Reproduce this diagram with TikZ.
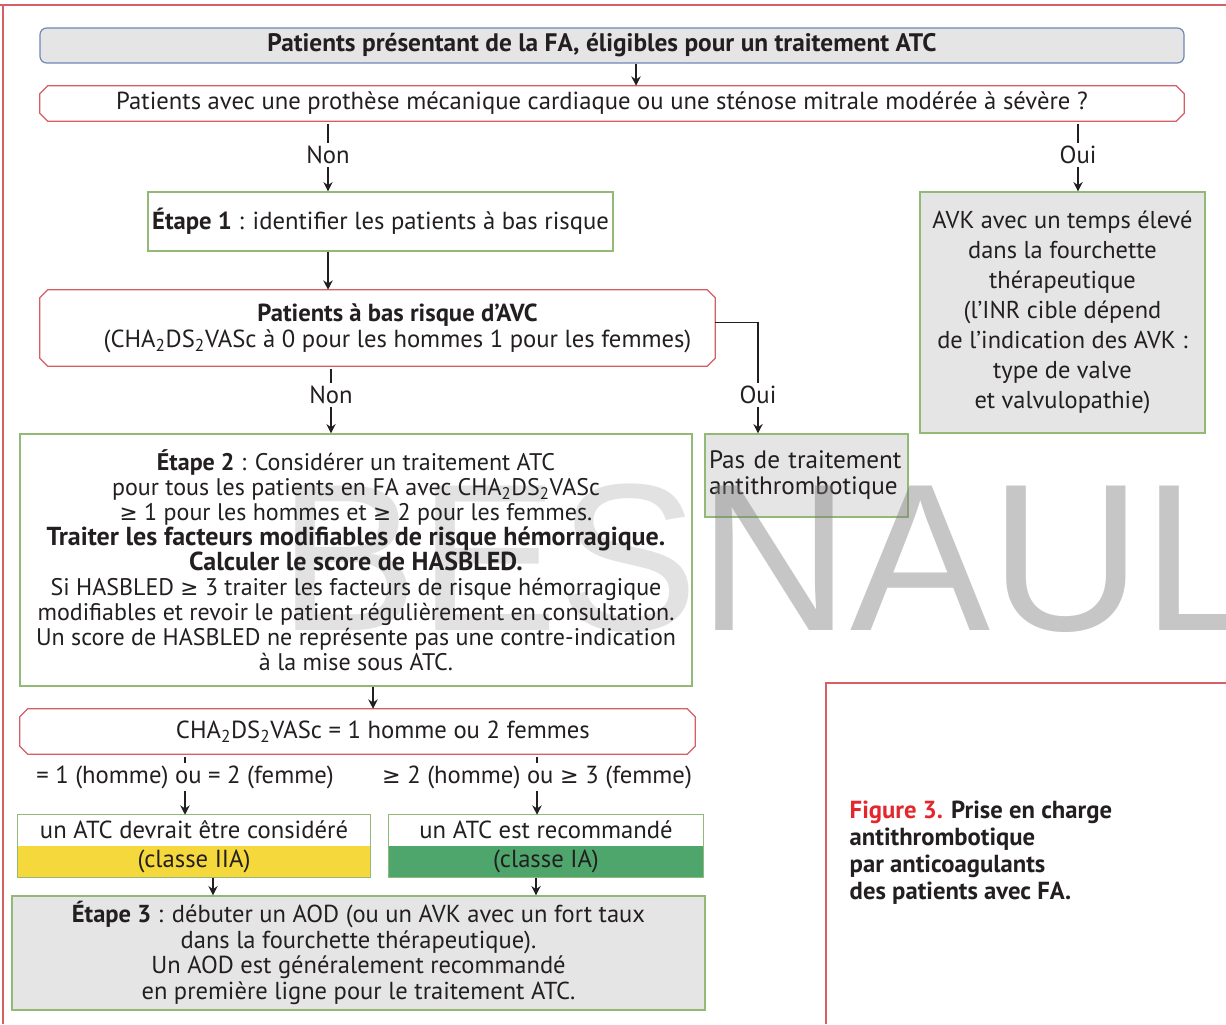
\documentclass[tikz,border=0pt]{standalone}
\usepackage{fontspec}
\setmainfont{PT Sans}
\newfontfamily\markfont{Liberation Sans}
\newfontfamily\symfont[Scale=0.9]{DejaVu Sans}
\usepackage{tikz}
\usetikzlibrary{arrows.meta}
\usetikzlibrary{calc}
\usetikzlibrary{positioning}

\definecolor{ink}{RGB}{35,31,32}
\definecolor{redline}{RGB}{212,96,100}
\definecolor{greenline}{RGB}{146,186,118}
\definecolor{blueline}{RGB}{112,134,180}
\definecolor{boxgray}{RGB}{229,229,229}
\definecolor{classyellow}{RGB}{245,216,60}
\definecolor{classgreen}{RGB}{78,166,108}
\definecolor{figred}{RGB}{228,38,45}
\definecolor{markgray}{RGB}{120,120,120}

\newcommand{\chads}{CHA\textsubscript{2}DS\textsubscript{2}VASc}
\newcommand{\gesign}{{\symfont ≥}}
% red outline with cut corners round a node
\newcommand{\chamferbox}[1]{%
  \draw[redline,line width=0.9pt] ($(#1.north west)!6pt!(#1.north east)$) -- ($(#1.north east)!6pt!(#1.north west)$)
    -- ($(#1.north east)!6pt!(#1.south east)$) -- ($(#1.south east)!6pt!(#1.north east)$)
    -- ($(#1.south east)!6pt!(#1.south west)$) -- ($(#1.south west)!6pt!(#1.south east)$)
    -- ($(#1.south west)!6pt!(#1.north west)$) -- ($(#1.north west)!6pt!(#1.south west)$) -- cycle;}

\begin{document}
\begin{tikzpicture}[x=0.75pt,y=0.75pt,yscale=-1,xscale=1,
  txt/.style={text=ink,font=\fontsize{18.5}{19.5}\selectfont},
  redbox/.style={txt,rectangle,fill=white,inner sep=0pt},
  greenbox/.style={txt,rectangle,draw=greenline,line width=0.9pt,fill=white,inner sep=0pt},
  graybox/.style={greenbox,fill=boxgray},
  lab/.style={txt,inner xsep=2pt,inner ysep=2pt},
  arr/.style={draw=ink,line width=1.1pt,-{Stealth[length=7pt,width=7pt]}},
  stub/.style={draw=ink,line width=1.1pt,shorten <=2pt},
  ]
\useasboundingbox (0,0) rectangle (1226,1024);
\fill[white] (0,0) rectangle (1226,1024);

%Straight Lines
\draw[redline,line width=1.2pt] (0,5) -- (1226,5) (3,5) -- (3,1024);
%Straight Lines
\draw[redline,line width=1.2pt] (826,1024) -- (826,683) -- (1226,683);

%Shape: Rectangle
\node[txt,draw=blueline,fill=boxgray,line width=0.9pt,rounded corners=5pt,minimum width=858pt,minimum height=26.25pt,font=\fontsize{19}{19.5}\selectfont\bfseries] (elig) at (612,45.5) {Patients présentant de la FA, éligibles pour un traitement ATC\hspace*{15pt}};
%Shape: Chamfered Rectangle
\node[redbox,minimum width=858pt,minimum height=26.25pt] (valve) at (612,103.5) {Patients avec une prothèse mécanique cardiaque ou une sténose mitrale modérée à sévère ?\hspace*{15pt}};
\chamferbox{valve}
% Text Node
\node[lab] (valveno) at (328,155) {Non};
% Text Node
\node[lab] (valveyes) at (1078,155) {Oui};
%Shape: Rectangle
\node[greenbox,minimum width=348.75pt,minimum height=44.25pt] (stepone) at (380.5,221.5) {\textbf{Étape 1} : identifier les patients à bas risque};
%Shape: Rectangle
\node[graybox,minimum width=213.75pt,minimum height=180.75pt,align=center,font=\fontsize{18.3}{22.5}\selectfont] (avk) at (1062.5,312.5) {AVK avec un temps élevé\\dans la fourchette\\thérapeutique\\(l’INR cible dépend\\de l’indication des AVK :\\type de valve\\et valvulopathie)};
%Shape: Chamfered Rectangle
\node[redbox,minimum width=506.25pt,minimum height=57pt,align=center] (lowrisk) at (377.5,328) {\hspace*{30pt}\textbf{Patients à bas risque d’AVC}\\\hspace*{30pt}(\chads{} à 0 pour les hommes 1 pour les femmes)};
\chamferbox{lowrisk}
% Text Node
\node[lab] (lowno) at (331,395) {Non};
% Text Node
\node[lab] (lowyes) at (758,395) {Oui};
%Shape: Rectangle
\node[graybox,text width=146.25pt,inner xsep=3pt,minimum height=62.25pt,align=left,font=\fontsize{18.9}{19.5}\selectfont] (notreat) at (806.5,475.5) {Pas de traitement\\antithrombotique};

% Text Node
\node[markgray,opacity=0.42,font=\markfont\fontsize{157.5}{157.5}\selectfont,anchor=base west] (mark) at (274,630) {BESNAULT};

%Shape: Rectangle
\node[greenbox,fill opacity=0.5,text opacity=1,minimum width=504pt,minimum height=189pt,align=center,font=\fontsize{18}{18.75}\selectfont] (steptwo) at (356,560) {\textbf{Étape 2} : Considérer un traitement ATC\\pour tous les patients en FA avec \chads\\\gesign{} 1 pour les hommes et \gesign{} 2 pour les femmes.\\{\fontsize{19.5}{18.75}\selectfont\bfseries Traiter les facteurs modifiables de risque hémorragique.}\\{\fontsize{19.5}{18.75}\selectfont\bfseries Calculer le score de HASBLED.}\\Si HASBLED \gesign{} 3 traiter les facteurs de risque hémorragique\\modifiables et revoir le patient régulièrement en consultation.\\Un score de HASBLED ne représente pas une contre-indication\\à la mise sous ATC.};
%Shape: Chamfered Rectangle
\node[redbox,minimum width=506.25pt,minimum height=33.75pt] (score) at (357.5,731.5) {\chads{} = 1 homme ou 2 femmes\hspace*{-38pt}};
\chamferbox{score}
% Text Node
\node[lab] (scorelow) at (185,777) {= 1 (homme) ou = 2 (femme)};
% Text Node
\node[lab] (scorehigh) at (537,777) {\gesign{} 2 (homme) ou \gesign{} 3 (femme)};

%Shape: Rectangle
\node[txt,fill=white,minimum width=264pt,minimum height=22.5pt] (considtop) at (194,830) {un ATC devrait être considéré};
\node[txt,fill=classyellow,minimum width=264pt,minimum height=22.5pt,below=0pt of considtop] (considbot) {(classe IIA)};
\draw[greenline,line width=0.9pt] (considtop.north west) rectangle (considbot.south east);
%Shape: Rectangle
\node[txt,fill=white,minimum width=235.5pt,minimum height=22.5pt] (recotop) at (546,830) {un ATC est recommandé};
\node[txt,fill=classgreen,minimum width=235.5pt,minimum height=22.5pt,below=0pt of recotop] (recobot) {(classe IA)};
\draw[greenline,line width=0.9pt] (recotop.north west) rectangle (recobot.south east);

%Shape: Rectangle
\node[graybox,minimum width=519.75pt,minimum height=85.5pt,align=center,font=\fontsize{18.4}{19.1}\selectfont] (stepthree) at (358.5,953) {\textbf{Étape 3} : débuter un AOD (ou un AVK avec un fort taux\\dans la fourchette thérapeutique).\\Un AOD est généralement recommandé\\en première ligne pour le traitement ATC.};

% Text Node
\node[anchor=north west,align=left,text=ink,font=\fontsize{18.5}{20.25}\selectfont\bfseries] (caption) at (845,796) {\textcolor{figred}{Figure 3.} Prise en charge\\antithrombotique\\par anticoagulants\\des patients avec FA.};

%Straight Lines
\draw[arr] ([xshift=18pt]elig.south) -- ([xshift=18pt]valve.north);
\draw[stub] (valve.south -| valveno) -- (valveno);
\draw[arr] (valveno) -- (stepone.north -| valveno);
\draw[stub] (valve.south -| valveyes) -- (valveyes);
\draw[arr] (valveyes) -- (avk.north -| valveyes);
\draw[arr] (stepone.south -| valveno) -- (lowrisk.north -| valveno);
\draw[stub] (lowrisk.south -| lowno) -- (lowno);
\draw[arr] (lowno) -- (steptwo.north -| lowno);
\draw[draw=ink,line width=1.1pt] ($(lowrisk.east)!0.15!(lowrisk.north east)$) -| (lowyes);
\draw[arr] (lowyes) -- (notreat.north -| lowyes);
\draw[arr] ([xshift=12.75pt]steptwo.south) -- ([xshift=12.75pt]steptwo.south |- score.north);
\draw[stub] (score.south -| scorelow) -- (scorelow);
\draw[arr] (scorelow) -- (considtop.north -| scorelow);
\draw[stub] (score.south -| scorehigh) -- (scorehigh);
\draw[arr] (scorehigh) -- (recotop.north -| scorehigh);
\draw[arr] ([xshift=14.25pt]considbot.south) -- ([xshift=14.25pt]considbot.south |- stepthree.north);
\draw[arr] ([xshift=-7.5pt]recobot.south) -- ([xshift=-7.5pt]recobot.south |- stepthree.north);

\end{tikzpicture}
\end{document}
